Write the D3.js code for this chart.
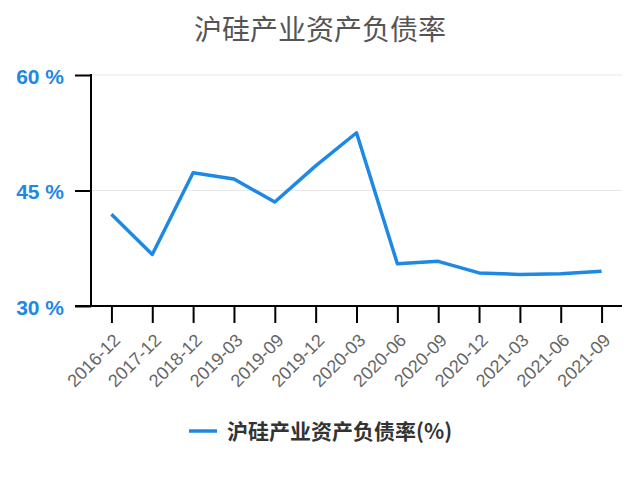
<!DOCTYPE html>
<html>
<head>
<meta charset="utf-8">
<script src="https://cdn.jsdelivr.net/npm/d3@7"></script>
<style>
  body { margin: 0; background: #fff; }
  svg { font-family: "Liberation Sans", Arial, "Noto Sans CJK SC", sans-serif; }
</style>
</head>
<body>
<svg id="chart" width="640" height="477"></svg>
<script>
// data
var categories = ["2016-12", "2017-12", "2018-12", "2019-03", "2019-09", "2019-12", "2020-03",
  "2020-06", "2020-09", "2020-12", "2021-03", "2021-06", "2021-09"];
var debtRatio = [41.9, 36.7, 47.3, 46.5, 43.5, 48.2, 52.5, 35.5, 35.8, 34.3, 34.1, 34.2, 34.5];
var yTicks = [30, 45, 60];
var seriesName = "沪硅产业资产负债率(%)";
var title = "沪硅产业资产负债率";

var blue = "#1e88e5";
var svg = d3.select("#chart");
var plotLeft = 91, plotRight = 622, plotTop = 75, plotBottom = 306;

var x = d3.scalePoint().domain(categories).range([plotLeft, plotRight]).padding(0.5);
var y = d3.scaleLinear().domain([30, 60]).range([plotBottom, plotTop]);

// title
svg.append("text")
  .attr("x", 320).attr("y", 40)
  .attr("text-anchor", "middle")
  .style("font-family", "'Noto Sans CJK SC', sans-serif")
  .style("font-size", "28px")
  .style("fill", "#555")
  .text(title);

// grid
svg.append("g").selectAll("line")
  .data(yTicks.slice(1))
  .enter().append("line")
  .attr("x1", plotLeft).attr("x2", plotRight)
  .attr("y1", function(d) { return y(d); })
  .attr("y2", function(d) { return y(d); })
  .style("stroke", "#e8e8e8").style("stroke-width", 1);

// y axis
var yAxis = svg.append("g")
  .attr("transform", "translate(" + plotLeft + ",0)")
  .call(d3.axisLeft(y).tickValues(yTicks).tickSize(16).tickPadding(11)
    .tickFormat(function(d) { return d + " %"; }));
yAxis.select(".domain").remove();
yAxis.selectAll(".tick line").style("stroke", "#000").style("stroke-width", 2);
yAxis.selectAll("text")
  .style("font-size", "21px").style("font-weight", "bold").style("fill", blue)
  .attr("dy", "0.4em");
svg.append("line")
  .attr("x1", plotLeft).attr("x2", plotLeft).attr("y1", plotTop - 1).attr("y2", plotBottom)
  .style("stroke", "#000").style("stroke-width", 2);

// x axis
var xAxis = svg.append("g")
  .attr("transform", "translate(0," + plotBottom + ")")
  .call(d3.axisBottom(x).tickSize(17));
xAxis.select(".domain").remove();
xAxis.selectAll(".tick line").style("stroke", "#000").style("stroke-width", 2);
xAxis.selectAll("text")
  .style("font-size", "18px").style("fill", "#666")
  .attr("text-anchor", "end")
  .attr("x", 0).attr("y", 0)
  .attr("dy", "0.35em")
  .attr("transform", "translate(5,31) rotate(-45)");
svg.append("line")
  .attr("x1", plotLeft - 16).attr("x2", plotRight).attr("y1", plotBottom).attr("y2", plotBottom)
  .style("stroke", "#000").style("stroke-width", 2);

// series line
var line = d3.line()
  .x(function(d, i) { return x(categories[i]); })
  .y(function(d) { return y(d); });
svg.append("path")
  .datum(debtRatio)
  .attr("d", line)
  .style("fill", "none")
  .style("stroke", blue)
  .style("stroke-width", 3.5)
  .style("stroke-linejoin", "round");

// legend
svg.append("line")
  .attr("x1", 189).attr("x2", 217).attr("y1", 431).attr("y2", 431)
  .style("stroke", blue).style("stroke-width", 3.5);
svg.append("text")
  .attr("x", 227).attr("y", 439)
  .style("font-family", "'Noto Sans CJK SC', sans-serif")
  .style("font-size", "21px").style("font-weight", "bold")
  .style("fill", "#333")
  .text(seriesName);
</script>
</body>
</html>
